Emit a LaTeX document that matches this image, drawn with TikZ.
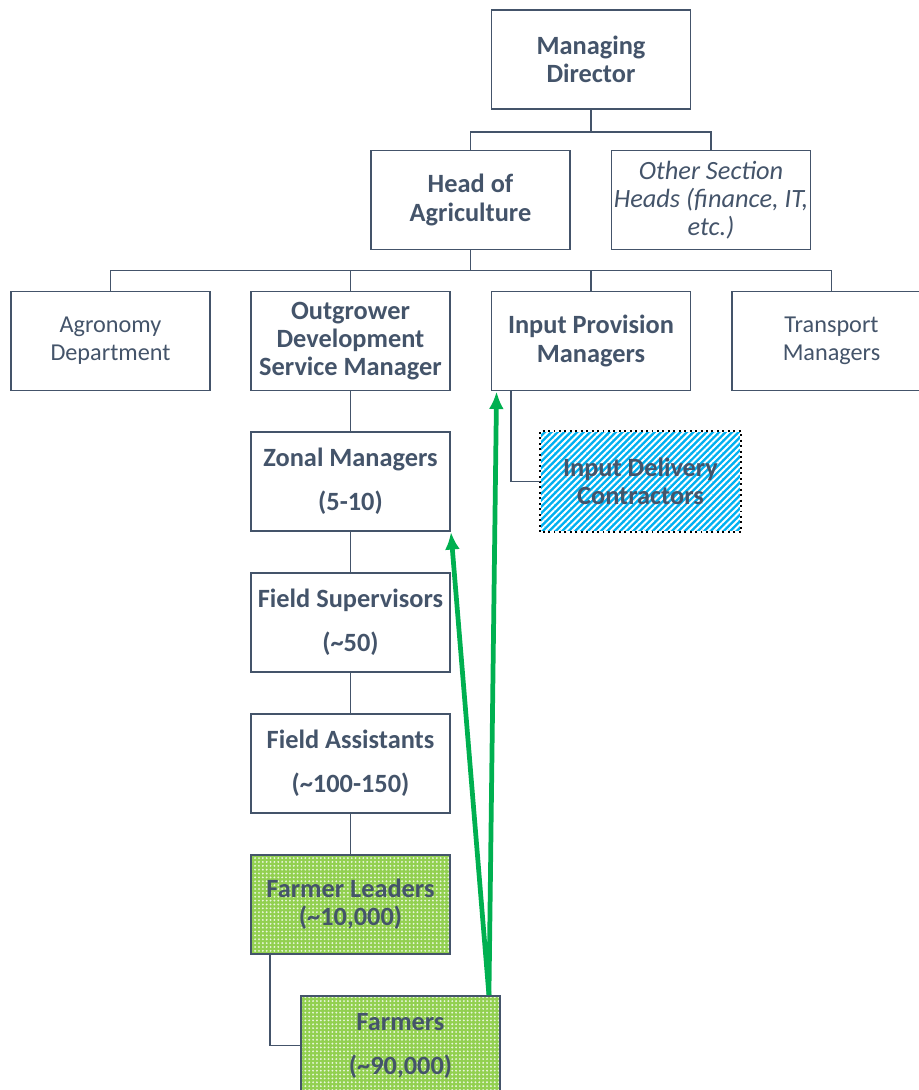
\documentclass[tikz,border=0pt]{standalone}
\usepackage{fontspec}
\setmainfont{Carlito}
\usetikzlibrary{positioning,calc,patterns.meta,arrows.meta}
\definecolor{slate}{HTML}{44546A}
\definecolor{leafgreen}{HTML}{92D050}
\definecolor{skyblue}{HTML}{00B0F0}
\definecolor{arrowgreen}{HTML}{00B050}
\tikzset{
  post/.style={draw=slate, line width=1.1pt, fill=white, minimum width=3.98cm,
    minimum height=1.98cm, inner sep=1pt, align=center, text=slate,
    font=\fontsize{15}{16}\selectfont\bfseries},
  plainpost/.style={post, font=\fontsize{13.8}{16}\selectfont},
  otherpost/.style={post, font=\fontsize{15}{16}\selectfont\itshape},
  farmpost/.style={post, preaction={fill=leafgreen},
    pattern={Dots[distance=2.2pt, radius=0.6pt]}, pattern color=white!80!leafgreen},
  contractpost/.style={post, draw=none, preaction={fill=skyblue},
    pattern={Lines[angle=45, distance=2.6pt, line width=1.1pt]}, pattern color=white},
  link/.style={draw=slate, line width=1.1pt},
  feedback/.style={draw=arrowgreen, line width=2.7pt, -{Latex[length=10pt,width=8.5pt]}}
}

\begin{document}
\begin{tikzpicture}[x=0.02cm, y=-0.02cm]
\useasboundingbox (0,0) rectangle (919,1090);
% top of the tree
\node[post] (md) at (591,59.5) {Managing\\Director};
\node[post] (hoa) at (470.5,200) {Head of\\Agriculture};
\node[otherpost] (other) at (711,200) {Other Section\\Heads (finance, IT,\\etc.)};
\draw[link] (md.south) -- ++(0,22) -| (hoa.north);
\draw[link] (md.south) -- ++(0,22) -| (other.north);
% departments
\node[plainpost] (agro) at (110.5,341) {Agronomy\\Department};
\node[post] (odsm) at (350.5,341) {Outgrower\\Development\\Service Manager};
\node[post] (inprov) at (591,341) {Input Provision\\Managers};
\node[plainpost] (transp) at (831.5,341) {Transport\\Managers};
\foreach \d in {agro,odsm,inprov,transp}
  \draw[link] (hoa.south) -- ++(0,20) -| (\d.north);
% outgrower chain
\node[post] (zonal) at (350.5,481.5) {Zonal Managers\\[9pt](5-10)};
\node[post] (supv) at (350.5,622.5) {Field Supervisors\\[9pt](\textasciitilde50)};
\node[post] (assist) at (350.5,763.5) {Field Assistants\\[9pt](\textasciitilde100-150)};
\node[farmpost] (leaders) at (350.5,904.5) {Farmer Leaders\\(\textasciitilde10,000)};
\node[farmpost] (farmers) at (400.5,1045.5) {Farmers\\[9pt](\textasciitilde90,000)};
\draw[link] (odsm) -- (zonal);
\draw[link] (zonal) -- (supv);
\draw[link] (supv) -- (assist);
\draw[link] (assist) -- (leaders);
\draw[link] ($(leaders.south west)+(20,0)$) |- (farmers.west);
% contractors
\node[contractpost] (contract) at (640.5,481.5) {Input Delivery\\Contractors};
\draw[black, dotted, line width=1.1pt] (contract.south west) rectangle (contract.north east);
\draw[link] ($(inprov.south west)+(20,0)$) |- (contract.west);
% feedback arrows
\coordinate (src) at ($(farmers.north east)+(-12,0)$);
\draw[feedback] (src) -- ($(inprov.south west)+(6,0)$);
\draw[feedback] (src) -- (zonal.south east);
\end{tikzpicture}
\end{document}
